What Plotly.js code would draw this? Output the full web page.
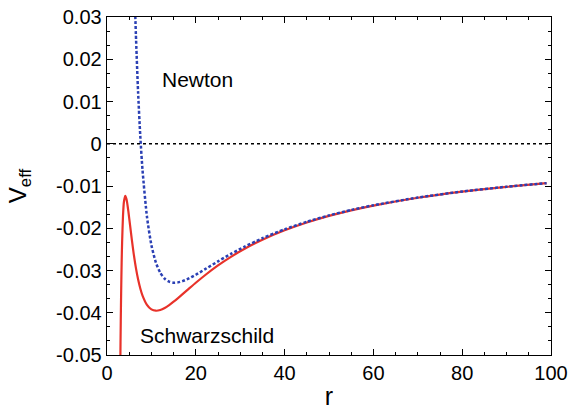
<!DOCTYPE html>
<html>
<head>
<meta charset="utf-8">
<script src="https://cdn.plot.ly/plotly-3.0.1.min.js"></script>
<style>html,body{margin:0;padding:0;background:#fff;}#chart{width:574px;height:410px;}</style>
</head>
<body>
<div id="chart"></div>
<script>
// Schwarzschild effective potential
const rSchw = [2.9, 3.0, 3.1, 3.2, 3.3, 3.4, 3.6, 3.8, 4.1, 4.4, 4.8, 5.2, 5.6, 6, 6.5, 7, 7.5, 8, 9, 10, 11, 12, 13, 14, 15, 16, 18, 20, 22, 25, 28, 31, 35, 40, 45, 50, 55, 60, 70, 80, 90, 99];
const vSchw = [-0.0643, -0.0519, -0.0420, -0.0342, -0.0281, -0.02341, -0.01715, -0.01385, -0.01233, -0.01315, -0.01591, -0.01934, -0.02277, -0.02593, -0.02932, -0.03207, -0.03425, -0.03594, -0.03813, -0.0392, -0.03952, -0.03935, -0.03887, -0.03819, -0.03739, -0.03652, -0.03471, -0.0329, -0.03118, -0.02881, -0.02671, -0.02486, -0.02272, -0.02049, -0.01864, -0.01708, -0.01576, -0.01463, -0.01278, -0.01134, -0.01019, -0.00934];
// Newtonian effective potential
const rNewt = [6.0, 6.2, 6.5, 7, 7.5, 8, 9, 10, 11, 12, 13, 14, 15, 16, 17, 18, 20, 22, 25, 28, 31, 35, 40, 45, 50, 55, 60, 70, 80, 90, 99];
const vNewt = [0.04444, 0.03642, 0.02603, 0.01224, 0.00178, -0.00625, -0.01728, -0.024, -0.0281, -0.03055, -0.03195, -0.03265, -0.03289, -0.03281, -0.03252, -0.0321, -0.031, -0.02975, -0.02784, -0.02602, -0.02435, -0.02237, -0.02025, -0.01847, -0.01696, -0.01567, -0.01456, -0.01274, -0.01131, -0.01017, -0.00932];
// Tick labels
const yTickVals = [0.03, 0.02, 0.01, 0, -0.01, -0.02, -0.03, -0.04, -0.05];
const yTickText = ["0.03", "0.02", "0.01", "0", "-0.01", "-0.02", "-0.03", "-0.04", "-0.05"];
const xTickVals = [0, 20, 40, 60, 80, 100];
const xTickText = ["0", "20", "40", "60", "80", "100"];
const labels = [
  {text: "Newton", r: 20.4, v: 0.0151},
  {text: "Schwarzschild", r: 22.5, v: -0.0453}
];

const font = "Liberation Sans, Arial, Helvetica, sans-serif";

const traces = [
  {x: rSchw, y: vSchw, mode: "lines", line: {color: "#e8322a", width: 2.2, shape: "spline", smoothing: 0.6}, hoverinfo: "skip"},
  {x: rNewt, y: vNewt, mode: "lines", line: {color: "#2b40b4", width: 2.5, dash: "3px,2px", shape: "spline", smoothing: 0.6}, hoverinfo: "skip"}
];

const axisCommon = {
  showgrid: false, zeroline: false, showline: true, linecolor: "#000", linewidth: 1.3,
  mirror: "allticks", ticks: "inside", ticklen: 6, tickwidth: 1, tickcolor: "#000",
  tickfont: {family: font, size: 20, color: "#000"}
};

const layout = {
  width: 574, height: 410,
  margin: {l: 107, r: 23, t: 17, b: 55},
  paper_bgcolor: "#fff", plot_bgcolor: "#fff",
  showlegend: false,
  xaxis: Object.assign({}, axisCommon, {
    range: [0, 100], tickmode: "array", tickvals: xTickVals, ticktext: xTickText,
    minor: {dtick: 5, ticks: "inside", ticklen: 3, tickcolor: "#000", showgrid: false},
    title: {text: "r", font: {family: font, size: 25, color: "#000"}, standoff: 19}
  }),
  yaxis: Object.assign({}, axisCommon, {
    range: [-0.05, 0.03], tickmode: "array", tickvals: yTickVals, ticktext: yTickText,
    minor: {dtick: 0.01/3, tick0: 0, ticks: "inside", ticklen: 3, tickcolor: "#000", showgrid: false},
    title: {text: "V<sub>eff</sub>", font: {family: font, size: 24, color: "#000"}, standoff: 22}
  }),
  shapes: [
    {type: "line", xref: "x", yref: "y", x0: 0, x1: 100, y0: 0, y1: 0, line: {color: "#000", width: 1.3, dash: "dot"}}
  ],
  annotations: labels.map(l => ({
    x: l.r, y: l.v, xref: "x", yref: "y", text: l.text, showarrow: false,
    font: {family: font, size: 21, color: "#000"}
  }))
};

Plotly.newPlot("chart", traces, layout, {staticPlot: true, displayModeBar: false});
</script>
</body>
</html>
